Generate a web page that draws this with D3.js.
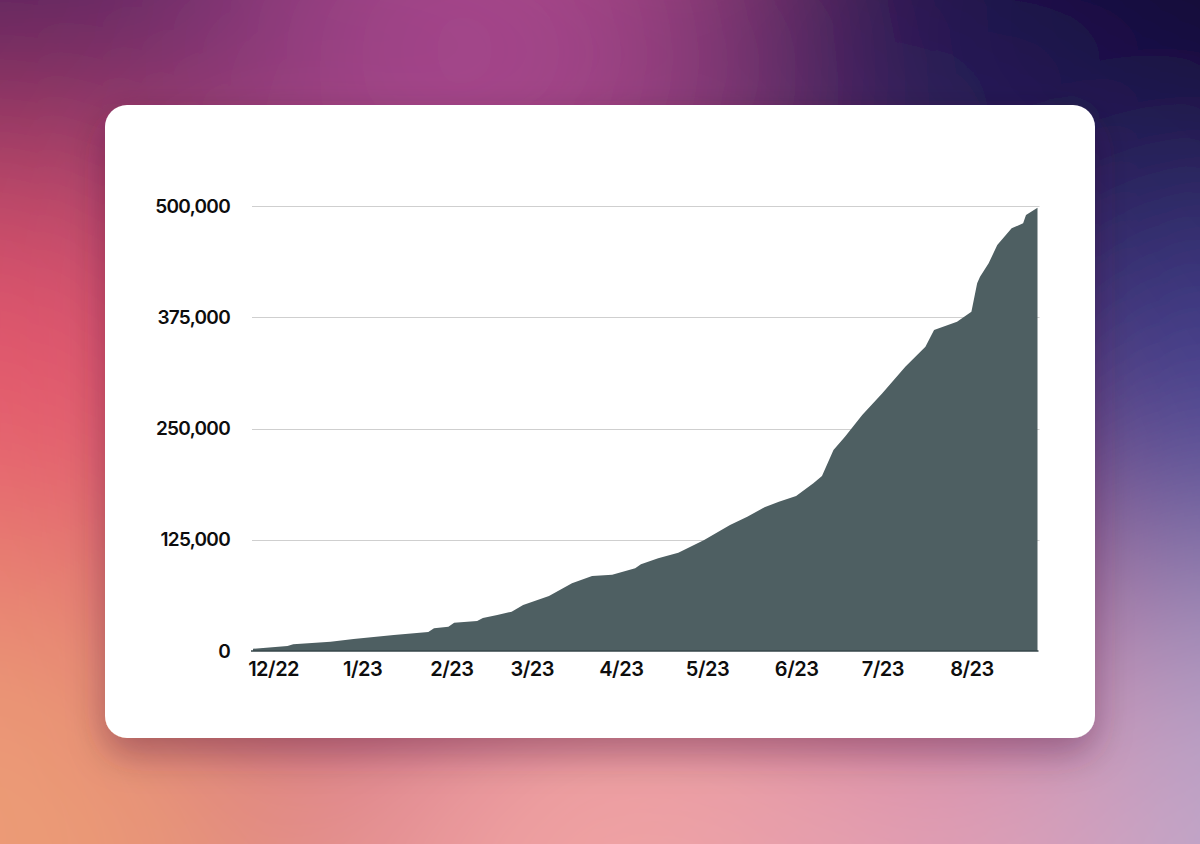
<!DOCTYPE html>
<html>
<head>
<meta charset="utf-8">
<script src="https://cdn.jsdelivr.net/npm/d3@7"></script>
<style>
  html, body { margin: 0; padding: 0; background: #b8507a; }
  body { width: 1200px; height: 844px; overflow: hidden; }
  svg { position: absolute; left: 0; top: 0; }
  text { font-family: Inter, "Noto Sans", sans-serif; font-weight: 600; fill: #0d0d0d; }
</style>
</head>
<body>
<div id="chart"></div>
<script>
// cumulative total
var dates = ["2022-11-24","2022-12-06","2022-12-08","2022-12-21","2022-12-29","2023-01-12",
  "2023-01-24","2023-01-26","2023-01-31","2023-02-02","2023-02-10","2023-02-12","2023-02-17",
  "2023-02-22","2023-02-26","2023-03-03","2023-03-07","2023-03-15","2023-03-22","2023-03-29",
  "2023-04-06","2023-04-08","2023-04-14","2023-04-21","2023-04-30","2023-05-09","2023-05-15",
  "2023-05-21","2023-05-26","2023-06-01","2023-06-07","2023-06-10","2023-06-14","2023-06-18",
  "2023-06-24","2023-07-01","2023-07-09","2023-07-16","2023-07-19","2023-07-27","2023-08-01",
  "2023-08-03","2023-08-04","2023-08-07","2023-08-10","2023-08-15","2023-08-19","2023-08-20",
  "2023-08-24"];
var values = [2500, 5600, 7500, 10500, 13500, 18000,
  21400, 25500, 27300, 31800, 33700, 37000, 40400,
  44200, 51700, 57300, 61800, 76000, 84300, 85800,
  92900, 97400, 104200, 110500, 124700, 141600, 150900,
  161500, 167800, 174200, 188400, 196600, 225800, 240800,
  265200, 289500, 319400, 341900, 360700, 370000, 381200,
  413200, 420600, 435600, 456200, 474900, 480500, 489900,
  498000];
var yTicks = [0, 125000, 250000, 375000, 500000];
var xTicks = ["2022-12-01","2023-01-01","2023-02-01","2023-03-01","2023-04-01",
  "2023-05-01","2023-06-01","2023-07-01","2023-08-01"];

// background blobs (colour spots of the backdrop)
var blobs = [
  {cx: -40, cy: -40, r: 360, c: "#54245f"},
  {cx: 470, cy: 50, r: 240, c: "#a2458b"},
  {cx: 1240, cy: -30, r: 500, c: "#070530"},
  {cx: 900, cy: 110, r: 200, c: "#281c5a"},
  {cx: 1240, cy: 440, r: 230, c: "#4a4595"},
  {cx: 1240, cy: 870, r: 300, c: "#b6a6cc"},
  {cx: -20, cy: 430, r: 280, c: "#e5596d"},
  {cx: -20, cy: 870, r: 320, c: "#ec9b76"},
  {cx: 640, cy: 890, r: 320, c: "#f0a3a2"},
  {cx: 950, cy: 870, r: 200, c: "#e2a0b6"}
];

var parse = d3.timeParse("%Y-%m-%d");
var data = dates.map(function(d, i) { return {date: parse(d), value: values[i]}; });

// Set Dimension
var plotLeft = 253, plotRight = 1037.5, plotTop = 206, plotBottom = 651;

var svg = d3.select("#chart")
  .append("svg")
  .attr("width", 1200)
  .attr("height", 844);

var defs = svg.append("defs");
defs.append("filter")
  .attr("id", "blur")
  .attr("x", "-100%").attr("y", "-100%").attr("width", "300%").attr("height", "300%")
  .append("feGaussianBlur")
  .attr("stdDeviation", 120);

var shadow = defs.append("filter")
  .attr("id", "shadow")
  .attr("x", "-20%").attr("y", "-20%").attr("width", "140%").attr("height", "150%");
shadow.append("feDropShadow")
  .attr("dx", 0).attr("dy", 16)
  .attr("stdDeviation", 18)
  .attr("flood-color", "#3a1030")
  .attr("flood-opacity", 0.35);

// backdrop
svg.append("rect").attr("width", 1200).attr("height", 844).attr("fill", "#bc527a");
svg.append("g")
  .attr("filter", "url(#blur)")
  .selectAll("circle")
  .data(blobs)
  .enter()
  .append("circle")
  .attr("cx", function(d) { return d.cx; })
  .attr("cy", function(d) { return d.cy; })
  .attr("r", function(d) { return d.r; })
  .attr("fill", function(d) { return d.c; });

// card
svg.append("rect")
  .attr("x", 105).attr("y", 105)
  .attr("width", 990).attr("height", 633)
  .attr("rx", 22)
  .attr("fill", "#fff")
  .attr("filter", "url(#shadow)");

var x = d3.scaleTime()
  .domain(d3.extent(data, function(d) { return d.date; }))
  .range([plotLeft, plotRight]);

var y = d3.scaleLinear()
  .domain([0, 500000])
  .range([plotBottom, plotTop]);

// grid lines
svg.append("g")
  .selectAll("line")
  .data(yTicks.filter(function(t) { return t > 0; }))
  .enter()
  .append("line")
  .attr("x1", plotLeft - 1)
  .attr("x2", plotRight + 2)
  .attr("y1", function(d) { return Math.round(y(d)) + 0.5; })
  .attr("y2", function(d) { return Math.round(y(d)) + 0.5; })
  .attr("stroke", "#cfcfcf")
  .attr("stroke-width", 1);

// area
var area = d3.area()
  .x(function(d) { return x(d.date); })
  .y0(plotBottom)
  .y1(function(d) { return y(d.value); });

svg.append("path")
  .datum(data)
  .attr("d", area)
  .attr("fill", "#4e5f62");

// baseline
svg.append("line")
  .attr("x1", plotLeft - 2)
  .attr("x2", plotRight + 1)
  .attr("y1", plotBottom)
  .attr("y2", plotBottom)
  .attr("stroke", "#36464a")
  .attr("stroke-width", 1.5);

// Y axis labels
var yAxis = svg.append("g")
  .attr("transform", "translate(230,0)")
  .call(d3.axisLeft(y).tickValues(yTicks).tickSize(0).tickPadding(0)
    .tickFormat(d3.format(",")));
yAxis.select(".domain").remove();
yAxis.selectAll("text")
  .attr("font-size", "19px")
  .attr("letter-spacing", "-0.7px")
  .attr("font-family", null);

// X axis labels
var xAxis = svg.append("g")
  .attr("transform", "translate(0," + plotBottom + ")")
  .call(d3.axisBottom(x).tickValues(xTicks.map(parse)).tickSize(0).tickPadding(11)
    .tickFormat(function(d) { return (d.getMonth() + 1) + "/" + d3.timeFormat("%y")(d); }));
xAxis.select(".domain").remove();
xAxis.selectAll("text")
  .attr("font-size", "20px")
  .attr("letter-spacing", "-0.5px")
  .attr("font-family", null);
</script>
</body>
</html>
